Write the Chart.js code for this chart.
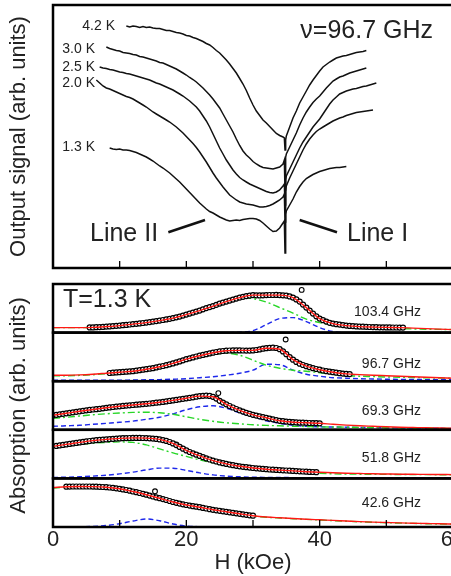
<!DOCTYPE html>
<html>
<head>
<meta charset="utf-8">
<script src="https://cdn.jsdelivr.net/npm/chart.js@4.4.1/dist/chart.umd.min.js"></script>
<style>
  html, body { margin: 0; padding: 0; background: #fff; overflow: hidden; }
  #wrap { position: relative; width: 451px; height: 576px; overflow: hidden; }
  canvas { position: absolute; left: 0; }
  #top { top: 0; }
  #bottom { top: 270px; }
  .lbl { position: absolute; font-family: 'Liberation Sans', Arial, sans-serif; color: #222; line-height: 1; white-space: nowrap; }
</style>
</head>
<body>
<div id="wrap">
  <canvas id="top" width="470" height="272"></canvas>
  <canvas id="bottom" width="470" height="306"></canvas>
</div>
<script>
// ---- top panel: output signal vs H at 96.7 GHz (arb. units) ----
const topH = [6.5,7,7.5,8,8.5,9,9.5,10,10.5,11,11.5,12,12.5,13,13.5,14,14.5,15,15.5,16,16.5,17,17.5,18,18.5,19,19.5,20,20.5,21,21.5,22,22.5,23,23.5,24,24.5,25,25.5,26,26.5,27,27.5,28,28.5,29,29.5,30,30.5,31,31.5,32,32.5,33,33.5,34,34.5,34.7,34.8,34.9,35,35.5,36,36.5,37,37.5,38,38.5,39,39.5,40,40.5,41,41.5,42,42.5,43,43.5,44,44.5,45,45.5,46,46.5,47,47.5,48,48.5];

const sig42 = [null,null,null,null,null,null,null,null,null,
  242,241,242,241.5,240.5,241.5,240.5,241,240,239.5, 239.5,238.5,237.5,237.5,236.5,235.5,235,234,232.5,232,
  230.5,229.5,228,226.5,224.5,223,220.5,217.5,215,211.5, 208,204,199.5,195,189.5,184,177.5,170,163,157,
  152.5,148,145,141.5,138,134.5,132.5,131,
  130,118,128,
  132,141,150,157,165,171,177,183,188,192.5, 197,201,203.5,206,208,210,211,212,212.5,213.5, 214.5,215.5,216,216.5,217.5,
  null,null,null];
const sig30 = [null,null,null,
  221,219.5,218.5,217.5,217,215.5,215,214.5,213.5,213, 211.5,211,210,209,208,207,205.5,205,203.5,202,
  200.5,199,197,195,193,190.5,188.5,186,183,180, 176.5,173,169,164.5,160,154,148,142,136,129,
  122.5,117,113,110,106.5,104,102,100.5,100,99.5, 99,100,101,104,
  108,78,111,
  114,121,128,135,143,150,156,161,165.5,169, 172,176,180,183.5,187,189,191,192,193.5,195, 196,197,198,199,200,
  null,null,null];
const sig25 = [null,
  201,200,199.5,198.5,198,197,196,195.5,194.5,194, 193,192,191,190,189,188,186.5,185,184,182.5,
  181,179.5,178,176,174,172,169.5,167,164,161, 157,152,147,141,134,127,120,114,108,103,
  98,94,90.5,88,86,84,82.5,81,79.5,78, 76.5,75.5,75,76,78,82,
  84,63,88,
  92,99,106,113,120,126,131,136,141,145, 149,154,159,164,168,171,174,175.5,177,178, 179,179.5,180.5,181.5,182,183,184,185];
const sig20 = [188,185,182,180,179,177.5,176,174.5,173,171.5, 170.5,169,167,165,163,161,158.5,156,154,152,
  150,148,146,143.5,141,138,135,131.5,128,124.5, 120.5,116,111,106,100.5,95,90,85.5,81,77,
  73,70.5,68,66,65,64,63.5,63,62,61, 61,61.5,62.5,64,66,68,71,
  74,46,78,
  82,90,97,104,111,118,124,129,133,136.5, 139,141,143,145,147,148.5,150,151,152.5,153.5, 154.5,155.5,156,156.5,157,157.5,158,
  null];
const sig13 = [null,null,null,null,
  120,119,118.5,119,118,118,117.5,116.5,115.5,114, 112.5,111,109,107,104.5,102,100,97.5,95,92,
  89,86,82.5,79,75.5,72,68.5,65,62,59, 56.5,55,53,51,49.5,48,47,47.5,48,47.5,
  48.5,49,49.5,49.5,49,47.5,45,42,39,36.5, 37,40,45,
  47,15,54,
  57,63,69,76,81.5,86,89.5,91.5,93.5,95, 96.5,97.5,98.5,99.5,100,100.5,100.5,101,101.5,
  null,null,null,null,null,null,null,null,null];
const topCurves = [sig42, sig30, sig25, sig20, sig13];

// pointers for "Line II" and "Line I" (H, signal)
const lineIIh = [17.3, 22.8], lineIIv = [35.7, 48];
const lineIh = [37.0, 42.6], lineIv = [48, 35.7];

// ---- bottom panels: absorption at T = 1.3 K ----
const circH = [0,0.5,1,1.5,2,2.5,3,3.5,4,4.5,5,5.5,6,6.5,7,7.5,8,8.5,9,9.5,10,10.5,11,11.5,12,12.5,13,13.5,14,14.5,15,15.5,16,16.5,17,17.5,18,18.5,19,19.5,20,20.5,21,21.5,22,22.5,23,23.5,24,24.5,25,25.5,26,26.5,27,27.5,28,28.5,29,29.5,30,30.5,31,31.5,32,32.5,33,33.5,34,34.5,35,35.5,36,36.5,37,37.5,38,38.5,39,39.5,40,40.5,41,41.5,42,42.5,43,43.5,44,44.5,45,45.5,46,46.5,47,47.5,48,48.5,49,49.5,50,50.5,51,51.5,52,52.5];
const lineH = [0,2,4,6,8,10,12,14,16,18,20,22,24,26,28,30,32,34,36,38,40,42,44,46,48,50,52,54,56,58,60];
const freqs = ['103.4 GHz', '96.7 GHz', '69.3 GHz', '51.8 GHz', '42.6 GHz'];

const circ1 = [5.2,5.2,5.4,5.5,5.7,6,6.2,6.5,6.8,7, 7.4,7.7,8.1,8.5,8.8,9.2,9.6,10,10.5,11, 11.5,12,12.6,13.2,13.8,14.5,15.3,16,17,18,
  19,20,21,22,23.3,24.5,25.5,26.5,27.8,29, 30,31,32,33,34,35,35.8,36.5,37,37.5, 37.3,37.2,37.3,37.5,37.6,37.6,37.7,37.5,37.3,37,
  36.2,35,33.2,31,28,25,22,19,16.3,14, 12.4,11,9.8,9,8.4,8,7.5,7,6.7,6.5, 6.2,6,5.9,5.8,5.6,5.5,5.4,5.3,5.3,5.2, 5.2,5.1,5.1,5,5];
const circ2 = [8.2,8.5,8.8,9,9.3,9.5,9.8,10,10.5,11, 11.5,12,12.5,13,13.8,14.5,15.2,16,16.9,17.8, 18.8,19.8,20.9,22,22.9,23.8,24.7,25.5,26.3,27,
  27.8,28.5,29.2,29.8,30.2,30.5,30.7,30.8,30.8,30.8, 30.7,30.6,30.6,30.8,31.2,31.8,32.5,33,33.4,33.5, 33.2,32,29.8,27,24,21.5,19.3,17.5,16.2,15,
  14,13,12.2,11.5,10.7,10,9.5,9,8.5,8, 7.6,7.3,7.1];
const circ3 = [14.5,15,15.5,16,16.5,17,17.5,18,18.5,19, 19.5,19.9,20.3,20.6,21,21.5,22,22.4,22.8,23.2, 23.5,23.9,24.2,24.5,24.8,25.1,25.4,25.7,26,26.3,
  26.7,27.1,27.5,27.9,28.4,28.9,29.4,29.9,30.5,31, 31.5,32,32.5,33.1,33.7,34,34.2,33.9,33,31.2, 29,27.2,25.5,23.8,22.3,20.8,19.5,18.2,17,16,
  15,14.2,13.5,12.7,12,11.2,10.5,9.7,9,8.6, 8.2,7.9,7.6,7.4,7.2,7.1,7,6.8,6.7,6.6, 6.5];
const circ4 = [32.5,33,33.5,34,34.5,35,35.5,36,36.5,37, 37.4,37.8,38.2,38.5,38.8,39,39.3,39.5,39.8,40, 40.2,40.3,40.4,40.5,40.5,40.5,40.4,40.3,40.1,39.8,
  39.5,39,38.3,37.5,36.4,35,33.3,31.5,29.7,28, 26.4,25,23.7,22.5,21.2,20,18.9,17.8,16.9,16, 15.2,14.5,13.8,13.2,12.6,12.1,11.6,11.2,10.8,10.4,
  10.1,9.8,9.5,9.2,8.9,8.7,8.5,8.3,8.1,7.9, 7.7,7.5,7.3,7.1,6.9,6.7,6.5,6.4,6.2];
const circ5 = [40.3,40.4,40.5,40.5,40.5,40.5,40.5,40.5,40.4,40.3, 40.2,40,39.8,39.5,39.2,38.7,38.2,37.6,37,36.3, 35.5,34.8,34,33.2,32.3,31.4,30.5,29.6,28.8,27.9,
  27,26,25,24.2,23.4,22.7,22,21.4,20.8,20.3, 19.8,19.1,18.5,17.8,17.2,16.7,16.2,15.7,15.2,14.7, 14.2,13.7,13.2,12.7,12.2,11.7,11.3];
const circFrom = [11, 17, 0, 1, 4]; // index in circH of each panel's first point

const red1 = [5,5,5,5.2,6,7,8.5,10,12,14.5,18,22,26.5,31,35,37.5,37.5,37.5,35,25,14,9,7,6,5.5,5.2,5,4.5,4,3.5,3];
const red2 = [6,6,6.3,7,8,9,10,12,14.5,17.8,22,25.5,28.5,30.5,30.8,30.8,33,32,21.5,15,11.5,9,7.3,6.6,6,5.5,5,4.5,4,3.5,3];
const red3 = [14.5,16.5,18.5,20.3,22,23.5,24.8,26,27.5,29.4,31.5,33.7,33,25.5,19.5,15,12,9,7.6,7,6.5,5.5,4.7,4,3.5,3,2.6,2.3,2,1.8,1.5];
const red4 = [32,34,36,37.8,39,40,40.5,40.3,39,35,28,22.5,17.8,14.5,12.1,10.4,9.2,8.3,7.5,6.7,6.1,5.6,5.2,4.9,4.6,4.4,4.2,4.1,4,3.9,3.8];
const red5 = [39.5,40.3,40.5,40.4,39.8,38.2,35.5,32.3,28.8,25,22,19.8,17.2,15.2,13.2,11.3,10,9.2,8.5,7.8,7.2,6.6,6,5.4,4.9,4.5,4.1,3.8,3.5,3.2,3];

const green1 = [5,5,5,5.2,6,7,8.5,10,12,14.5,18,22,26.5,31,35,34,30.5,25,19.5,13.5,10,7.5,6,5,4.5,4.2,4,3.7,3.4,3.2,3];
const green2 = [5.5,5.5,5.8,6.5,7.5,8.5,9.5,11.5,14,17.5,21,24.5,27,28,26,21,16,13,11,10,8.5,7,5.5,5,4.6,4.2,4,3.7,3.4,3.2,3];
const green3 = [11.5,12.5,13.8,15,16,16.8,17.4,17.6,17,15.5,13,10.5,8.5,7,6,5,4.4,4,3.6,3.3,3,2.8,2.6,2.4,2.2,2,1.9,1.8,1.6,1.5,1.3];
const green4 = [31,32.5,34,35.2,36,36.5,36,33.5,29.5,25.5,22,18.5,15.5,13.2,11.5,10,8.7,7.5,6.5,5.7,5,4.6,4.4,4.2,4.1,4,3.9,3.8,3.8,3.7,3.7];
const green5 = [39,39.8,40,39.8,39,37,34,30.5,27,23.8,21,19,16.7,14.8,12.9,11,9.8,9,8.3,7.6,7,6.4,5.8,5.2,4.7,4.3,3.9,3.6,3.3,3,2.8];

const blue1 = [0,0,0,0,0,0,0,0,0,0,0,0,0,0,0.3,2,8,14,15,11,5,1,0,0,0,0,0,0,0,0,0];
const blue2 = [1,1,1,1,1,1,1.2,1.4,1.6,2,2.5,3.5,4.5,6,8,11,17,16.5,11,7,5,3.5,3,2.5,2.2,2,1.8,1.7,1.6,1.5,1.5];
const blue3 = [3.5,4,4.5,5.5,6.5,7.5,8.7,10.5,12.5,16,20,23,24,21.5,17,13,9,6.5,4.5,3.5,3,2.8,2.6,2.4,2.2,2,1.9,1.8,1.6,1.5,1.4];
const blue4 = [1,1.2,1.6,2.3,3.2,4.5,6.3,8.5,10.3,10.2,8,5.5,3.5,2.3,1.6,1.2,1,0.9,0.8,0.7,0.7,0.6,0.6,0.6,0.5,0.5,0.5,0.5,0.5,0.5,0.5];
const blue5 = [0,0,0.2,0.6,1.5,3.3,6,8,6.3,3,1,0.3,0,0,0,0,0,0,0,0,0,0,0,0,0,0,0,0,0,0,0];

// stray points above each spectrum
const outH = [37.3, 34.9, 24.8, 18.5, 15.3];
const outV = [42.7, 41.7, 36.7, 34, 35.7];

const xMinorTicks = [10, 20, 30, 40, 50];

// ---- drawing ----
const family = "'Liberation Sans', Arial, Helvetica, sans-serif";
Chart.defaults.font.family = family;
Chart.defaults.color = '#222';

const xy = (hs, vs) => hs.map((h, i) => ({ x: h, y: vs[i] }));

// frame + inward x ticks
const framePlugin = {
  id: 'frame',
  afterDatasetsDraw(chart, args, opts) {
    const { ctx, chartArea: a, scales } = chart;
    ctx.save();
    ctx.strokeStyle = '#000';
    ctx.lineWidth = 2.5;
    const bands = opts.bands ? opts.bands.map(id => scales[id]) : [a];
    bands.forEach(b => ctx.strokeRect(a.left, b.top, a.right - a.left, b.bottom - b.top));
    ctx.lineWidth = 1.3;
    xMinorTicks.forEach(v => {
      const x = scales.x.getPixelForValue(v);
      ctx.beginPath();
      ctx.moveTo(x, a.bottom);
      ctx.lineTo(x, a.bottom - 7);
      ctx.stroke();
    });
    ctx.restore();
  }
};

const topSets = topCurves.map(v => ({
  data: xy(topH, v), borderColor: '#111', borderWidth: 1.5, pointRadius: 0, tension: 0, spanGaps: false
}));
topSets.push({ data: xy(lineIIh, lineIIv), borderColor: '#111', borderWidth: 2.5, pointRadius: 0 });
topSets.push({ data: xy(lineIh, lineIv), borderColor: '#111', borderWidth: 2.5, pointRadius: 0 });

new Chart(document.getElementById('top'), {
  type: 'line',
  data: { datasets: topSets },
  options: {
    responsive: false, animation: false, devicePixelRatio: 1,
    layout: { padding: { top: 5, right: 17, bottom: 4, left: 0 } },
    plugins: { legend: { display: false }, tooltip: { enabled: false }, frame: {} },
    scales: {
      x: { type: 'linear', display: false, min: 0, max: 60 },
      y: {
        min: 0, max: 263,
        ticks: { display: false }, grid: { display: false }, border: { display: false },
        title: { display: true, text: 'Output signal (arb. units)', font: { size: 22 }, padding: { top: 6, bottom: 0 } },
        afterFit: s => { s.width = 53; }
      }
    }
  },
  plugins: [framePlugin]
});

const circs = [circ1, circ2, circ3, circ4, circ5];
const reds = [red1, red2, red3, red4, red5];
const greens = [green1, green2, green3, green4, green5];
const blues = [blue1, blue2, blue3, blue4, blue5];

const botSets = [];
const botScales = {
  x: {
    type: 'linear', position: 'bottom', min: 0, max: 60,
    ticks: { stepSize: 20, autoSkip: false, maxRotation: 0, padding: 0, font: { size: 22 } },
    grid: { display: false, drawTicks: false }, border: { display: false },
    title: { display: true, text: 'H (kOe)', font: { size: 22 }, padding: { top: 0, bottom: 0 } },
    afterFit: s => { s.height = 49; }
  }
};
const bandIds = [];
freqs.forEach((f, p) => {
  const id = 'p' + (p + 1);
  bandIds.push(id);
  botScales[id] = {
    type: 'linear', position: 'left', stack: 'abs', stackWeight: 1, weight: 5 - p,
    min: 0, max: 48.6,
    ticks: { display: false }, grid: { display: false }, border: { display: false },
    title: { display: p === 2, text: 'Absorption (arb. units)', font: { size: 22 }, padding: { top: 6, bottom: 0 } },
    afterFit: s => { s.width = 53; }
  };
  botSets.push({ data: xy(lineH, reds[p]), yAxisID: id, borderColor: 'rgb(255,25,20)', borderWidth: 1.4,
    pointRadius: 0, cubicInterpolationMode: 'monotone', order: 1 });
  botSets.push({ data: circs[p].map((v, i) => ({ x: circH[circFrom[p] + i], y: v })), yAxisID: id, showLine: false,
    pointRadius: 2.5, pointBorderWidth: 1.2, pointBorderColor: '#000', pointBackgroundColor: '#fff', order: 2 });
  botSets.push({ data: [{ x: outH[p], y: outV[p] }], yAxisID: id, showLine: false,
    pointRadius: 2.4, pointBorderWidth: 1.1, pointBorderColor: '#000', pointBackgroundColor: '#fff', order: 2 });
  botSets.push({ data: xy(lineH, greens[p]), yAxisID: id, borderColor: 'rgb(40,215,40)', borderWidth: 1.4,
    borderDash: [7, 3, 2, 3], pointRadius: 0, cubicInterpolationMode: 'monotone', order: 3 });
  botSets.push({ data: xy(lineH, blues[p]), yAxisID: id, borderColor: 'rgb(30,40,235)', borderWidth: 1.4,
    borderDash: [5, 3], pointRadius: 0, cubicInterpolationMode: 'monotone', order: 4 });
});

new Chart(document.getElementById('bottom'), {
  type: 'line',
  data: { datasets: botSets },
  options: {
    responsive: false, animation: false, devicePixelRatio: 1,
    layout: { padding: { top: 14, right: 17, bottom: 0, left: 0 } },
    plugins: { legend: { display: false }, tooltip: { enabled: false }, frame: { bands: bandIds } },
    scales: botScales
  },
  plugins: [framePlugin]
});

// ---- text annotations ----
const notes = [
  ['4.2 K', 115, 25, 14, 'r'], ['3.0 K', 95, 48, 14, 'r'], ['2.5 K', 95, 66, 14, 'r'],
  ['2.0 K', 95, 82, 14, 'r'], ['1.3 K', 95, 146, 14, 'r'],
  ['\u03bd=96.7 GHz', 433, 29, 25, 'r'],
  ['Line II', 90, 232, 25, 'l'], ['Line I', 347, 232, 25, 'l'],
  ['T=1.3 K', 63, 298, 25, 'l']
];
const freqY = [311, 363, 410, 457, 502];
freqs.forEach((f, i) => notes.push([f, 421, freqY[i], 14, 'r']));

const wrap = document.getElementById('wrap');
notes.forEach(([t, x, y, s, a]) => {
  const d = document.createElement('div');
  d.className = 'lbl';
  d.textContent = t;
  d.style.fontSize = s + 'px';
  d.style.top = (y - s / 2) + 'px';
  if (a === 'r') d.style.right = (451 - x) + 'px';
  else d.style.left = x + 'px';
  wrap.appendChild(d);
});
</script>
</body>
</html>
